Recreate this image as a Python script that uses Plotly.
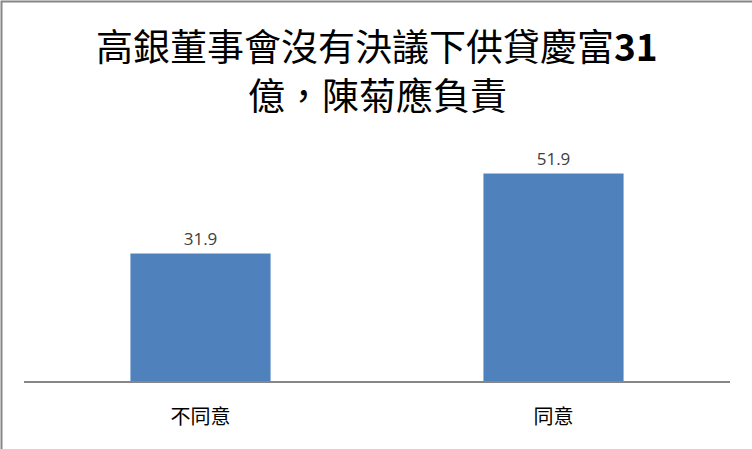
import plotly.graph_objects as go

categories = ["不同意", "同意"]
values = [31.9, 51.9]
title_lines = ["高銀董事會沒有決議下供貸慶富<b>31</b>", "億，陳菊應負責"]

W, H = 752, 449
ml, mr, mt, mb = 24, 22, 141, 68
pw = W - ml - mr
ph = H - mt - mb

fig = go.Figure(go.Bar(
    x=categories, y=values,
    marker=dict(color="#4F81BD", line=dict(width=0)),
    text=[f"{v:.1f}" for v in values],
    textposition="outside",
    textfont=dict(family="Open Sans, Noto Sans CJK TC", size=17, color="#404040"),
    cliponaxis=False,
))

title_centers = [45, 94]
annotations = [
    dict(
        text=t, showarrow=False,
        xref="paper", yref="paper",
        x=(377 - ml) / pw, xanchor="center",
        y=(mt + ph - cy) / ph, yanchor="middle",
        font=dict(family="Noto Sans CJK TC", size=37, color="#000000"),
    )
    for t, cy in zip(title_lines, title_centers)
]

fig.update_layout(
    width=W, height=H,
    margin=dict(l=ml, r=mr, t=mt, b=mb),
    paper_bgcolor="white", plot_bgcolor="white",
    bargap=0.603,
    showlegend=False,
    xaxis=dict(
        showline=True, linecolor="#868686", linewidth=1.5,
        ticks="outside", ticklen=17, tickcolor="rgba(0,0,0,0)",
        tickfont=dict(family="Noto Sans CJK TC", size=20, color="#000000"),
        showgrid=False, zeroline=False,
    ),
    yaxis=dict(
        range=[0, 60], visible=False, showgrid=False, zeroline=False,
    ),
    annotations=annotations,
    shapes=[dict(
        type="rect", xref="paper", yref="paper",
        x0=(1.5 - ml) / pw, x1=2.0,
        y0=-1.0, y1=(mt + ph - 1.5) / ph,
        line=dict(color="#868686", width=2), fillcolor="rgba(0,0,0,0)",
        layer="above",
    )],
)

fig.write_html("out.html", config={"displayModeBar": False},
               post_script="document.body.style.margin='0';document.body.style.overflow='hidden';")
